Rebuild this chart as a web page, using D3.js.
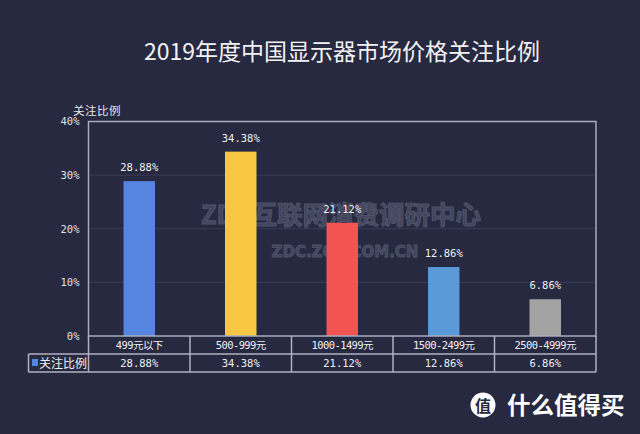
<!DOCTYPE html>
<html><head><meta charset="utf-8">
<script src="https://cdn.jsdelivr.net/npm/d3@7"></script>
<style>
html,body{margin:0;padding:0;background:#262940;}
svg{display:block;}
</style></head>
<body><div id="chart"></div>
<script>
const categories=['499元以下','500-999元','1000-1499元','1500-2499元','2500-4999元'];
const values=[28.88,34.38,21.12,12.86,6.86];
const barColors=['#5585e0','#f8c843','#f25454','#5a9ad8','#a3a3a3'];
const yTicks=[0,10,20,30,40];
const seriesName='关注比例';
const title='2019年度中国显示器市场价格关注比例';

(function(){
const W=640,H=434;
const svg=d3.select('#chart').append('svg').attr('width',W).attr('height',H);
svg.append('rect').attr('width',W).attr('height',H).attr('fill','#262940');

const pl=88.5,pr=596,pt=121.5,pb=336;
const x=d3.scaleBand().domain(categories).range([pl,pr]).padding(0);
const y=d3.scaleLinear().domain([0,40]).range([pb,pt]);
const mono='"DejaVu Sans Mono","Noto Sans CJK SC",monospace';
const cjk='"Noto Sans CJK SC","Noto Sans",sans-serif';

svg.append('text').attr('x',342).attr('y',60).attr('text-anchor','middle')
 .attr('fill','#f2f2f5').attr('font-size',23).attr('font-family',cjk).text(title);
svg.append('text').attr('x',73).attr('y',115).attr('fill','#e6e6ea')
 .attr('font-size',11.5).attr('font-family',cjk).attr('letter-spacing',0.5).text(seriesName);

// gridlines
svg.append('g').selectAll('line').data(yTicks.slice(1,-1)).enter().append('line')
 .attr('x1',pl).attr('x2',pr).attr('y1',d=>y(d)).attr('y2',d=>y(d))
 .attr('stroke','#3a3d55').attr('stroke-width',1);

// y axis labels
const yAxis=svg.append('g').attr('transform',`translate(${pl},0)`)
 .call(d3.axisLeft(y).tickValues(yTicks).tickFormat(d=>d+'%').tickSize(0).tickPadding(9));
yAxis.select('.domain').remove();
yAxis.selectAll('text').attr('fill','#e0e0e6').attr('font-size',10.5).attr('font-family',mono);

// watermark
svg.append('text').attr('x',341).attr('y',224).attr('text-anchor','middle')
 .attr('font-size',25.5).attr('font-weight','bold').attr('font-family',cjk)
 .attr('fill','#41455d').attr('stroke','#50546b').attr('stroke-width',1)
 .text('ZDC互联网消费调研中心');
svg.append('text').attr('x',345).attr('y',257).attr('text-anchor','middle')
 .attr('font-size',15).attr('font-weight','bold').attr('font-family','"DejaVu Sans",sans-serif')
 .attr('fill','#41455d').attr('stroke','#50546b').attr('stroke-width',0.8)
 .text('ZDC.ZOL.COM.CN');

// bars
const bw=x.bandwidth()*0.31;
svg.append('g').selectAll('rect').data(values).enter().append('rect')
 .attr('x',(d,i)=>x(categories[i])+x.bandwidth()/2-bw/2)
 .attr('width',bw).attr('y',d=>y(d)).attr('height',d=>pb-y(d))
 .attr('fill',(d,i)=>barColors[i]);
svg.append('g').selectAll('text').data(values).enter().append('text')
 .attr('x',(d,i)=>x(categories[i])+x.bandwidth()/2).attr('y',d=>y(d)-10)
 .attr('text-anchor','middle').attr('fill','#f0f0f4').attr('font-size',10.5).attr('font-family',mono)
 .text(d=>d.toFixed(2)+'%');

// plot border
svg.append('rect').attr('x',pl).attr('y',pt).attr('width',pr-pl).attr('height',pb-pt)
 .attr('fill','none').attr('stroke','#a9abbd').attr('stroke-width',1.5);

// data table
const r1=pb,r2=354,r3=372,tl=28.5;
const lines=svg.append('g').attr('stroke','#b0b2c2').attr('stroke-width',1.5);
lines.append('line').attr('x1',pl).attr('x2',pr).attr('y1',r2).attr('y2',r2);
lines.append('line').attr('x1',tl).attr('x2',pl).attr('y1',r2).attr('y2',r2);
lines.append('line').attr('x1',tl).attr('x2',pr).attr('y1',r3).attr('y2',r3);
lines.append('line').attr('x1',tl).attr('x2',tl).attr('y1',r2).attr('y2',r3);
lines.selectAll('line.col').data(categories.slice(1).concat([null])).enter().append('line').attr('class','col')
 .attr('x1',d=>d?x(d):pr).attr('x2',d=>d?x(d):pr).attr('y1',r1).attr('y2',r3);
lines.append('line').attr('x1',pl).attr('x2',pl).attr('y1',r1).attr('y2',r3);

svg.append('g').selectAll('text').data(categories).enter().append('text')
 .attr('x',d=>x(d)+x.bandwidth()/2).attr('y',(r1+r2)/2+4).attr('text-anchor','middle')
 .attr('fill','#f0f0f4').attr('font-size',10.5).attr('font-family',mono).attr('letter-spacing',-0.6).text(d=>d);
svg.append('g').selectAll('text').data(values).enter().append('text')
 .attr('x',(d,i)=>x(categories[i])+x.bandwidth()/2).attr('y',(r2+r3)/2+4).attr('text-anchor','middle')
 .attr('fill','#f0f0f4').attr('font-size',10.5).attr('font-family',mono).text(d=>d.toFixed(2)+'%');
svg.append('rect').attr('x',32).attr('y',359).attr('width',6).attr('height',7).attr('fill',barColors[0]);
svg.append('text').attr('x',39).attr('y',368).attr('fill','#f0f0f4').attr('font-size',12)
 .attr('font-family',cjk).text(seriesName);

// logo
svg.append('circle').attr('cx',483).attr('cy',405).attr('r',12.5).attr('fill','#ffffff');
svg.append('text').attr('x',483).attr('y',412).attr('text-anchor','middle').attr('fill','#262940')
 .attr('font-size',16).attr('font-weight','bold').attr('font-family',cjk).text('值');
svg.append('text').attr('x',507).attr('y',414).attr('fill','#ffffff')
 .attr('font-size',23.5).attr('font-weight','bold').attr('font-family',cjk).text('什么值得买');
})();
</script></body></html>
